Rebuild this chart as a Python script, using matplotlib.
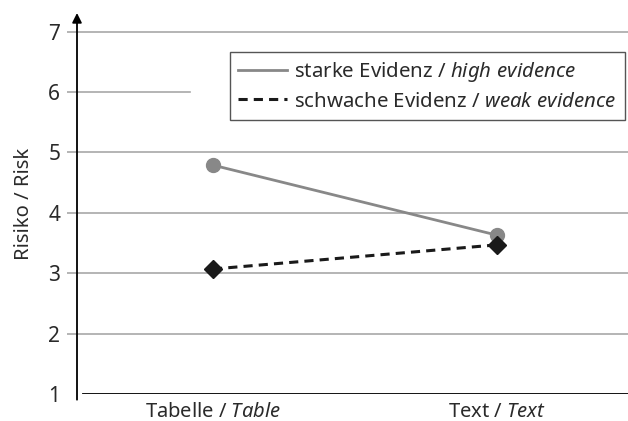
import matplotlib.pyplot as plt

# --- Daten ---
conditions = ['Tabelle / $\\it{Table}$', 'Text / $\\it{Text}$']
high_evidence = [4.79, 3.63]
weak_evidence = [3.07, 3.47]
y_ticks = [1, 2, 3, 4, 5, 6, 7]

FONT = 'Noto Sans'
plt.rcParams['font.family'] = [FONT, 'DejaVu Sans']
plt.rcParams['mathtext.fontset'] = 'custom'
plt.rcParams['mathtext.it'] = FONT + ':italic'
plt.rcParams['mathtext.rm'] = FONT

GRID = '#a8a8a8'
TXT = '#2a2a2a'
FS = 14.5

fig = plt.figure(figsize=(6.28, 4.21), dpi=100)
ax = fig.add_axes([77 / 628, 27 / 421, 551 / 628, 381 / 421])

x = list(range(len(conditions)))
ax.plot(x, high_evidence, color='#888888', lw=2, marker='o', markersize=10,
        label='starke Evidenz / $\\it{high\\ evidence}$', zorder=3)
ax.plot(x, weak_evidence, color='#1a1a1a', lw=2.2, ls=(0, (3, 2)), marker='D',
        markersize=9.5, label='schwache Evidenz / $\\it{weak\\ evidence}$', zorder=4)

ax.set_xlim(-0.479, 1.461)
ax.set_ylim(1, 7.31)

# Gitterlinien (die bei 6 endet vor der Legende)
for t in y_ticks[1:]:
    xmax = (190 - 77) / 551 if t == 6 else 1
    ax.axhline(t, xmin=0, xmax=xmax, color=GRID, lw=1.2, zorder=1)
ax.axhline(1, xmin=6 / 551, color='black', lw=1.3, zorder=2)

for s in ax.spines.values():
    s.set_visible(False)

# y-Achse mit Pfeil
ax.annotate('', xy=(0, 1.0), xytext=(0, -0.015), xycoords='axes fraction',
            arrowprops=dict(arrowstyle='-|>', color='black', lw=1.3,
                            mutation_scale=14, shrinkA=0, shrinkB=0))

ax.set_yticks(y_ticks)
ax.set_yticklabels([str(t) for t in y_ticks], fontsize=FS + 0.5, color=TXT)
ax.tick_params(axis='y', length=7, width=1.2, color=GRID, pad=5)
ax.yaxis.get_major_ticks()[0].tick1line.set_visible(False)

ax.set_xticks(x)
ax.set_xticklabels(conditions, fontsize=FS, color=TXT)
ax.tick_params(axis='x', length=0, pad=6)

ax.set_ylabel('Risiko / Risk', fontsize=FS, color=TXT, labelpad=10)

leg = fig.legend(loc='upper left', bbox_to_anchor=(230 / 628, 1 - 52 / 421),
                 fontsize=14.7, frameon=True, fancybox=False, handlelength=2.4,
                 handletextpad=0.35, borderpad=0.4, labelspacing=0.36,
                 borderaxespad=0)
leg.get_frame().set_edgecolor(TXT)
leg.get_frame().set_linewidth(1.0)
for h in leg.legend_handles:
    h.set_marker('')
for t in leg.get_texts():
    t.set_color(TXT)

fig.savefig('out.png', dpi=100)
